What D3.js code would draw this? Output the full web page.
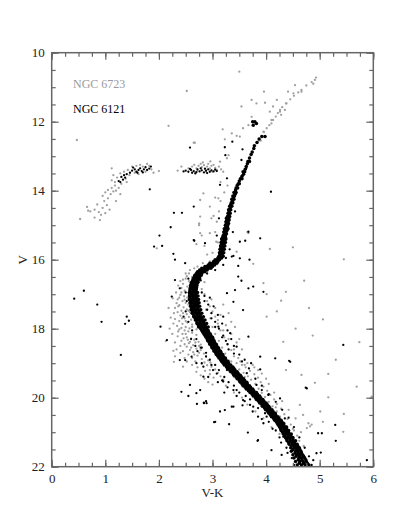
<!DOCTYPE html>
<meta charset="utf-8">
<title>CMD NGC 6121 / NGC 6723</title>
<style>

body {
  margin: 0;
  background: #fff;
}
svg text {
  font-family: "Liberation Serif", "DejaVu Serif", serif;
}

</style>
<body>
</body>
<script src="https://cdn.jsdelivr.net/npm/d3@7"></script>
<script>

var width = 415,
    height = 519;

// axis ticks
var xMajor = [0, 1, 2, 3, 4, 5, 6];
var yMajor = [10, 12, 14, 16, 18, 20, 22];

// NGC 6121 (black) -- dense sequence, rows of [V, [V-K ...]]
var m4Rows = [
  [21.95, [4.58, 4.66, 4.73, 4.80]], [21.90, [4.62, 4.70, 4.77]],
  [21.85, [4.55, 4.63, 4.69, 4.75]], [21.80, [4.60, 4.67, 4.74]],
  [21.75, [4.52, 4.61, 4.66, 4.72]], [21.70, [4.56, 4.63, 4.70]],
  [21.65, [4.50, 4.57, 4.62, 4.68]], [21.60, [4.54, 4.60, 4.66]],
  [21.55, [4.47, 4.55, 4.60, 4.65]], [21.50, [4.50, 4.57, 4.63]],
  [21.45, [4.46, 4.52, 4.57, 4.62]], [21.40, [4.47, 4.53, 4.59]],
  [21.35, [4.43, 4.49, 4.54, 4.58]], [21.30, [4.42, 4.48, 4.53]],
  [21.25, [4.39, 4.45, 4.50, 4.55]], [21.20, [4.38, 4.44, 4.50]],
  [21.15, [4.36, 4.41, 4.46, 4.50]], [21.10, [4.35, 4.41, 4.46]],
  [21.05, [4.32, 4.37, 4.42, 4.47]], [21.00, [4.31, 4.37, 4.42]],
  [20.95, [4.28, 4.33, 4.38, 4.42]], [20.90, [4.27, 4.33, 4.38]],
  [20.85, [4.25, 4.30, 4.34, 4.38]], [20.80, [4.23, 4.28, 4.33]],
  [20.75, [4.21, 4.25, 4.29, 4.33]], [20.70, [4.19, 4.24, 4.29]],
  [20.65, [4.16, 4.20, 4.24, 4.28]], [20.60, [4.14, 4.19, 4.24]],
  [20.55, [4.10, 4.14, 4.18, 4.22]], [20.50, [4.08, 4.13, 4.18]],
  [20.45, [4.05, 4.09, 4.13, 4.17]], [20.40, [4.03, 4.08, 4.13]],
  [20.35, [3.99, 4.03, 4.07, 4.11]], [20.30, [3.97, 4.02, 4.07]],
  [20.25, [3.93, 3.97, 4.01, 4.05]], [20.20, [3.92, 3.97, 4.02]],
  [20.15, [3.88, 3.92, 3.96, 4.00]], [20.10, [3.86, 3.91, 3.96]],
  [20.05, [3.82, 3.86, 3.90, 3.94]], [20.00, [3.80, 3.85, 3.90]],
  [19.95, [3.76, 3.80, 3.84, 3.88]], [19.90, [3.74, 3.79, 3.84]],
  [19.85, [3.70, 3.74, 3.78, 3.82]], [19.80, [3.67, 3.72, 3.77]],
  [19.75, [3.63, 3.67, 3.71, 3.75]], [19.70, [3.61, 3.66, 3.71]],
  [19.65, [3.57, 3.61, 3.65, 3.69]], [19.60, [3.55, 3.60, 3.65]],
  [19.55, [3.52, 3.56, 3.60, 3.64]], [19.50, [3.50, 3.55, 3.60]],
  [19.45, [3.46, 3.50, 3.54, 3.58]], [19.40, [3.44, 3.49, 3.54]],
  [19.35, [3.40, 3.44, 3.48, 3.52]], [19.30, [3.38, 3.43, 3.48]],
  [19.25, [3.34, 3.38, 3.42, 3.46]], [19.20, [3.32, 3.37, 3.42]],
  [19.15, [3.28, 3.32, 3.36, 3.40]], [19.10, [3.26, 3.31, 3.36]],
  [19.05, [3.22, 3.26, 3.30, 3.34]], [19.00, [3.20, 3.25, 3.30]],
  [18.95, [3.17, 3.21, 3.25, 3.29]], [18.90, [3.15, 3.20, 3.25]],
  [18.85, [3.12, 3.16, 3.20, 3.24]], [18.80, [3.10, 3.15, 3.20]],
  [18.75, [3.07, 3.11, 3.15, 3.19]], [18.70, [3.06, 3.11, 3.16]],
  [18.65, [3.03, 3.07, 3.11, 3.15]], [18.60, [3.02, 3.07, 3.12]],
  [18.55, [2.99, 3.03, 3.07, 3.11]], [18.50, [2.98, 3.03, 3.08]],
  [18.45, [2.95, 2.99, 3.03, 3.07]], [18.40, [2.94, 2.99, 3.04]],
  [18.35, [2.91, 2.95, 2.99, 3.03]], [18.30, [2.90, 2.96, 3.01]],
  [18.25, [2.88, 2.92, 2.96, 3.00]], [18.20, [2.86, 2.92, 2.97]],
  [18.15, [2.84, 2.88, 2.92, 2.96]], [18.10, [2.82, 2.88, 2.93]],
  [18.05, [2.80, 2.84, 2.88, 2.92]], [18.00, [2.78, 2.84, 2.89]],
  [17.95, [2.74, 2.79, 2.83, 2.87, 2.92]], [17.90, [2.74, 2.80, 2.86]],
  [17.85, [2.71, 2.76, 2.80, 2.84, 2.89]], [17.80, [2.71, 2.77, 2.83]],
  [17.75, [2.68, 2.73, 2.77, 2.81, 2.86]], [17.70, [2.68, 2.74, 2.80]],
  [17.65, [2.65, 2.70, 2.74, 2.78, 2.83]], [17.60, [2.65, 2.71, 2.77]],
  [17.55, [2.62, 2.67, 2.71, 2.75, 2.80]], [17.50, [2.63, 2.69, 2.75]],
  [17.45, [2.60, 2.65, 2.69, 2.73, 2.78]], [17.40, [2.61, 2.67, 2.73]],
  [17.35, [2.59, 2.64, 2.68, 2.72, 2.76]], [17.30, [2.60, 2.66, 2.72]],
  [17.25, [2.58, 2.63, 2.67, 2.71, 2.75]], [17.20, [2.59, 2.65, 2.71]],
  [17.15, [2.57, 2.62, 2.66, 2.70, 2.74]], [17.10, [2.58, 2.64, 2.70]],
  [17.05, [2.57, 2.61, 2.65, 2.69, 2.73]], [17.00, [2.58, 2.63, 2.69]],
  [16.95, [2.57, 2.61, 2.65, 2.69, 2.72]], [16.90, [2.58, 2.64, 2.69]],
  [16.85, [2.58, 2.62, 2.66, 2.70]], [16.80, [2.59, 2.65, 2.70]],
  [16.75, [2.59, 2.63, 2.67, 2.71]], [16.70, [2.61, 2.66, 2.71]],
  [16.65, [2.61, 2.65, 2.69, 2.73]], [16.60, [2.63, 2.68, 2.73]],
  [16.55, [2.64, 2.68, 2.72, 2.76]], [16.50, [2.66, 2.71, 2.76]],
  [16.45, [2.67, 2.71, 2.75, 2.79]], [16.40, [2.70, 2.75, 2.80]],
  [16.35, [2.72, 2.77, 2.82, 2.86]], [16.30, [2.76, 2.81, 2.86, 2.90]],
  [16.25, [2.80, 2.85, 2.89, 2.93, 2.97]], [16.20, [2.86, 2.90, 2.95, 3.00]],
  [16.15, [2.92, 2.96, 3.00, 3.04]], [16.10, [2.95, 3.00, 3.04, 3.08]],
  [16.05, [3.02, 3.06, 3.10]], [16.00, [3.05, 3.09, 3.13]],
  [15.95, [3.10, 3.14, 3.17]], [15.90, [3.12, 3.16, 3.20]],
  [15.85, [3.14, 3.18]], [15.80, [3.13, 3.17, 3.21]],
  [15.75, [3.15, 3.19]], [15.70, [3.14, 3.18, 3.22]],
  [15.65, [3.16, 3.20]], [15.60, [3.15, 3.19, 3.23]],
  [15.55, [3.17, 3.21]], [15.50, [3.16, 3.20, 3.24]],
  [15.45, [3.18, 3.23]], [15.40, [3.17, 3.21, 3.25]],
  [15.35, [3.19, 3.24]], [15.30, [3.20, 3.24]],
  [15.25, [3.22, 3.26]], [15.20, [3.21, 3.25]],
  [15.15, [3.23, 3.27]], [15.10, [3.22, 3.26, 3.29]],
  [15.05, [3.25, 3.28]], [15.00, [3.24, 3.28]],
  [14.95, [3.26, 3.30]], [14.90, [3.25, 3.29]],
  [14.85, [3.27, 3.31]], [14.80, [3.26, 3.30]],
  [14.75, [3.28, 3.32]], [14.70, [3.30]],
  [14.65, [3.29, 3.33]], [14.60, [3.31]],
  [14.55, [3.30, 3.34]], [14.50, [3.33]],
  [14.45, [3.32, 3.36]], [14.40, [3.34]],
  [14.35, [3.35, 3.38]], [14.30, [3.37]],
  [14.25, [3.36, 3.40]], [14.20, [3.39]],
  [14.15, [3.38, 3.41]], [14.10, [3.42]],
  [14.05, [3.40, 3.44]], [13.98, [3.43]],
  [13.92, [3.44, 3.47]], [13.85, [3.46]],
  [13.80, [3.48, 3.50]], [13.72, [3.50]],
  [13.65, [3.52, 3.55]], [13.58, [3.55]],
  [13.52, [3.58]], [13.45, [3.57, 3.60]],
  [13.38, [3.61]], [13.30, [3.63]],
  [13.22, [3.65]], [13.15, [3.66, 3.69]],
  [13.05, [3.69]], [12.95, [3.72]],
  [12.88, [3.74]], [12.78, [3.77]],
  [12.70, [3.78]], [12.60, [3.83]],
  [12.50, [3.87]], [12.43, [3.92, 3.98]],
  [12.10, [3.76]], [12.05, [3.82]], [12.00, [3.75, 3.79]]
];

// NGC 6121 horizontal branch [V-K, V]
var m4Hb = [
  [1.50, 13.42], [1.55, 13.38], [1.58, 13.45], [1.62, 13.40], [1.65, 13.35],
  [1.68, 13.43], [1.72, 13.38], [1.75, 13.32], [1.78, 13.40], [1.82, 13.36],
  [1.60, 13.48], [1.70, 13.47], [1.46, 13.48], [1.40, 13.52], [1.35, 13.55],
  [1.30, 13.60], [1.33, 13.68], [1.28, 13.75], [1.37, 13.62], [1.52, 13.33],
  [1.85, 13.30], [1.25, 13.72],
  [2.50, 13.42], [2.55, 13.45], [2.60, 13.40], [2.65, 13.43], [2.70, 13.46],
  [2.72, 13.38], [2.76, 13.44], [2.80, 13.41], [2.84, 13.47], [2.88, 13.42],
  [2.92, 13.38], [2.95, 13.45], [2.98, 13.41], [3.02, 13.44], [3.05, 13.39],
  [2.62, 13.48], [2.78, 13.35], [2.86, 13.36], [2.68, 13.50], [2.90, 13.49],
  [2.58, 13.37], [3.08, 13.43], [2.46, 13.44]
];

// NGC 6121 stars off the sequence [V-K, V]
var m4Field = [
  [0.42, 17.13], [0.60, 16.90], [0.85, 17.30], [0.93, 17.80], [1.40, 17.65],
  [1.44, 17.77], [1.37, 17.86], [1.29, 18.76], [2.03, 17.94],
  [2.42, 19.83], [2.55, 19.95], [2.70, 19.87], [2.71, 20.18], [2.84, 20.14],
  [2.49, 18.91], [2.58, 19.63], [2.77, 19.78], [2.88, 20.10],
  [2.58, 12.75], [2.43, 14.64], [2.28, 14.64], [2.22, 15.06], [2.01, 15.30],
  [1.91, 15.62], [2.06, 15.60], [2.30, 16.00], [2.66, 15.45], [1.83, 13.96],
  [4.09, 14.03], [3.89, 15.38], [3.23, 12.74], [3.24, 12.97], [3.37, 12.58],
  [3.56, 12.80], [3.14, 13.83], [3.27, 13.64], [3.61, 15.45], [3.39, 15.89],
  [3.69, 16.00], [3.48, 16.18], [3.76, 16.78], [3.95, 16.93], [3.54, 16.61],
  [3.42, 16.88], [4.17, 18.86], [4.43, 18.93], [3.89, 19.18], [4.74, 19.71],
  [5.44, 18.47], [5.29, 20.79], [5.30, 21.25], [4.97, 21.03], [5.02, 21.59],
  [4.88, 21.81], [5.88, 21.81], [3.03, 20.71], [3.31, 20.77], [3.23, 20.36],
  [3.66, 21.01], [3.84, 21.25], [2.84, 20.16], [3.56, 20.22], [3.39, 20.26],
  [2.27, 15.83], [2.49, 16.10], [2.30, 16.59], [2.24, 17.07], [2.39, 16.83],
  [2.46, 17.65], [2.15, 18.33], [2.39, 18.91], [3.48, 16.49], [3.67, 16.83],
  [3.57, 17.46], [3.33, 18.13], [3.45, 18.52], [3.67, 18.23], [3.89, 18.81],
  [3.39, 17.22], [3.27, 16.97], [3.20, 17.65], [3.11, 17.94], [3.36, 15.91],
  [3.51, 15.96], [2.61, 18.81], [2.70, 19.00], [2.83, 19.10],
  [2.89, 20.16], [3.05, 20.70], [3.14, 20.40], [3.36, 20.26], [3.70, 20.21],
  [3.85, 21.23], [4.10, 21.52], [4.29, 21.66], [4.94, 21.61], [5.04, 21.03],
  [4.45, 18.96], [4.76, 19.73], [4.26, 20.02], [4.04, 19.92], [3.57, 19.58],
  [3.45, 19.78], [2.83, 19.39], [2.80, 19.00], [3.27, 19.20], [4.20, 20.65],
  [4.35, 20.60], [4.32, 21.13], [3.95, 20.74], [4.38, 20.84], [4.48, 21.32],
  [3.14, 18.71], [3.39, 19.10], [3.64, 19.29], [3.82, 19.63], [3.92, 19.78],
  [3.01, 19.20], [3.20, 19.53], [3.39, 19.78], [3.57, 20.07], [3.76, 20.26],
  [4.01, 20.55], [3.85, 20.55], [2.65, 14.46], [2.65, 15.43], [2.86, 15.52],
  [3.51, 15.48], [3.67, 15.19], [3.54, 13.11], [3.63, 13.35],
  [2.52, 17.20], [2.50, 17.50], [2.55, 17.80], [2.62, 18.05], [2.70, 18.30],
  [2.78, 18.55], [2.88, 18.80], [2.98, 19.05], [3.08, 19.30], [3.18, 19.50],
  [3.28, 19.70], [3.45, 19.95], [3.60, 20.10], [3.75, 20.40], [3.92, 20.62],
  [4.12, 20.90], [4.25, 21.15], [4.38, 21.45], [4.48, 21.75], [4.52, 21.95],
  [4.85, 21.95], [4.80, 21.70], [4.72, 21.45], [4.62, 21.15], [4.52, 20.85],
  [4.42, 20.58], [4.30, 20.35], [4.18, 20.12], [4.05, 19.90], [3.92, 19.65],
  [3.80, 19.45], [3.68, 19.15], [3.55, 18.95], [3.40, 18.72], [3.28, 18.45],
  [3.18, 18.25], [3.05, 17.95], [2.98, 17.70], [2.90, 17.45], [2.85, 17.20],
  [2.80, 16.95], [2.78, 16.60], [2.90, 16.40], [3.05, 16.30], [3.20, 16.15],
  [3.25, 15.95], [2.55, 16.55], [2.50, 16.95], [3.32, 15.70], [3.08, 15.30],
  [3.38, 15.20], [3.12, 14.80], [3.42, 14.60],
  [2.85, 17.05], [2.92, 17.30], [2.98, 17.55], [3.05, 17.80], [3.12, 18.00],
  [3.20, 18.20], [3.25, 18.35], [2.95, 17.10], [3.02, 17.35], [3.10, 17.60],
  [3.18, 17.85], [3.28, 18.05], [3.35, 18.30], [3.40, 18.50], [3.30, 18.60],
  [3.50, 18.75], [3.60, 18.90], [3.72, 19.00],
  [2.80, 18.55], [2.88, 18.70], [2.95, 18.90], [3.05, 19.05], [3.12, 19.20],
  [3.22, 19.40], [3.30, 19.55], [3.40, 19.65], [3.50, 19.85], [3.62, 19.95],
  [3.70, 20.05], [3.85, 20.30], [3.98, 20.45], [4.05, 20.70], [4.18, 20.95],
  [4.28, 21.30], [4.40, 21.60], [2.92, 19.40], [3.10, 19.55], [3.22, 19.85],
  [2.68, 18.50], [2.60, 18.30], [2.72, 18.65]
];

// NGC 6723 (grey) main sequence, turnoff and giant branches [V-K, V]
var n6723Seq = [
  [2.50, 16.55], [2.56, 16.62], [2.45, 16.70], [2.53, 16.78], [2.60, 16.85],
  [2.48, 16.90], [2.55, 16.96], [2.42, 16.82], [2.58, 16.68], [2.36, 16.75],
  [2.62, 16.50], [2.50, 16.40], [2.58, 16.30], [2.66, 16.25], [2.72, 16.20],
  [2.45, 16.58],
  [2.40, 17.02], [2.47, 17.06], [2.53, 17.10], [2.35, 17.15], [2.44, 17.20],
  [2.50, 17.25], [2.55, 17.30], [2.38, 17.32], [2.46, 17.38], [2.52, 17.44],
  [2.30, 17.40], [2.42, 17.48], [2.57, 17.04], [2.33, 17.26], [2.48, 17.16],
  [2.26, 17.12],
  [2.35, 17.52], [2.45, 17.55], [2.52, 17.58], [2.40, 17.62], [2.56, 17.66],
  [2.48, 17.70], [2.30, 17.72], [2.60, 17.74], [2.38, 17.78], [2.53, 17.82],
  [2.44, 17.86], [2.62, 17.88], [2.34, 17.92], [2.50, 17.95], [2.57, 17.99],
  [2.42, 17.98], [2.27, 17.85], [2.65, 17.60], [2.22, 17.68], [2.58, 17.52],
  [2.38, 18.02], [2.48, 18.05], [2.55, 18.08], [2.62, 18.12], [2.44, 18.15],
  [2.70, 18.18], [2.35, 18.22], [2.52, 18.25], [2.60, 18.28], [2.66, 18.32],
  [2.42, 18.35], [2.74, 18.38], [2.56, 18.42], [2.48, 18.45], [2.64, 18.48],
  [2.30, 18.40], [2.78, 18.46], [2.25, 18.15], [2.70, 18.02], [2.58, 18.38],
  [2.52, 18.52], [2.60, 18.55], [2.70, 18.58], [2.78, 18.62], [2.45, 18.65],
  [2.64, 18.68], [2.84, 18.72], [2.55, 18.75], [2.72, 18.78], [2.88, 18.82],
  [2.62, 18.85], [2.80, 18.88], [2.92, 18.92], [2.48, 18.85], [2.68, 18.95],
  [2.96, 18.98], [2.40, 18.70], [2.75, 18.50],
  [2.80, 19.02], [2.90, 19.06], [2.98, 19.10], [2.72, 19.12], [3.05, 19.18],
  [2.86, 19.22], [3.10, 19.28], [2.95, 19.32], [3.15, 19.38], [3.02, 19.42],
  [3.20, 19.48], [2.78, 19.35],
  [2.32, 16.95], [2.40, 16.62], [2.52, 16.48], [2.36, 17.35], [2.28, 17.55],
  [2.43, 17.70], [2.50, 17.78], [2.36, 18.08], [2.46, 18.28], [2.54, 18.32],
  [2.40, 18.50], [2.58, 18.62], [2.66, 18.75], [2.52, 18.95], [2.62, 19.05],
  [2.85, 19.45], [2.70, 19.25], [2.92, 19.55], [3.00, 19.62], [2.20, 18.00],
  [2.18, 17.40], [2.30, 18.80], [2.45, 19.10], [2.56, 16.40], [2.42, 16.95],
  [2.62, 17.20], [2.60, 17.38], [2.62, 17.95], [2.68, 18.40], [2.75, 18.70],
  [2.85, 18.98], [2.95, 19.20], [2.50, 18.15], [2.33, 18.60], [2.38, 17.10],
  [2.55, 17.48],
  [2.80, 16.85], [2.85, 17.00], [2.90, 17.20], [2.95, 17.35], [3.00, 17.50],
  [2.88, 17.45], [3.05, 17.65], [2.96, 17.70], [3.10, 17.85], [3.00, 17.95],
  [3.15, 18.05], [3.05, 18.15], [3.22, 18.25], [3.12, 18.35], [3.28, 18.45],
  [3.18, 18.55], [3.35, 18.62], [3.24, 18.72], [3.40, 18.80], [3.30, 18.92],
  [2.85, 16.65], [3.45, 18.40], [3.35, 18.15], [3.25, 17.90], [3.15, 17.60],
  [3.20, 17.30], [3.30, 17.55], [3.42, 17.95], [3.50, 18.30], [3.55, 18.60],
  [3.48, 18.85], [3.60, 19.05],
  [3.35, 18.95], [3.50, 19.30], [3.65, 19.55], [3.70, 19.85], [3.82, 19.95],
  [3.90, 20.15], [4.02, 20.35], [4.15, 20.50], [4.25, 20.75], [4.35, 21.00],
  [4.45, 21.20], [3.92, 19.30], [4.05, 19.60], [4.15, 19.85], [4.30, 20.10],
  [4.42, 20.35], [4.55, 20.60], [3.60, 19.40], [3.75, 19.75], [4.18, 20.28],
  [4.50, 20.90], [4.65, 21.00], [3.52, 18.95], [3.65, 19.00], [3.78, 19.12],
  [3.40, 18.60], [3.30, 18.30], [3.20, 18.05], [3.10, 17.75], [3.35, 17.80],
  [3.05, 17.40], [2.98, 17.15],
  [3.45, 19.00], [3.55, 19.05], [3.62, 19.12], [3.50, 19.18], [3.70, 19.22],
  [3.58, 19.28], [3.78, 19.32], [3.66, 19.38], [3.85, 19.42], [3.72, 19.48],
  [3.90, 19.55], [3.80, 19.60], [3.95, 19.68], [3.86, 19.74], [4.02, 19.80],
  [3.92, 19.86], [4.08, 19.92], [3.98, 19.98], [4.15, 20.05], [4.05, 20.12],
  [4.20, 20.18], [4.12, 20.25], [4.28, 20.32], [4.20, 20.40], [4.34, 20.48],
  [4.26, 20.55], [4.40, 20.62], [4.32, 20.70], [4.46, 20.78], [4.40, 20.86],
  [4.52, 20.95], [4.58, 21.10], [4.62, 21.25], [4.70, 21.40], [3.40, 19.40],
  [3.50, 19.55], [3.60, 19.70], [3.32, 19.25], [3.75, 19.05], [3.85, 19.20],
  [4.00, 19.45], [3.25, 19.65], [3.40, 19.85], [3.55, 20.00], [3.65, 20.20],
  [3.80, 20.40], [3.95, 20.60], [4.10, 20.85], [4.25, 21.05],
  [4.79, 20.74], [4.82, 20.83], [4.85, 20.78], [4.76, 20.88],
  [2.75, 15.00], [2.80, 15.30], [2.85, 15.60], [2.90, 15.85], [2.95, 16.05],
  [2.70, 15.55], [2.82, 16.10], [3.05, 15.20], [3.10, 15.50], [3.00, 15.80],
  [3.08, 14.90], [3.12, 14.60], [3.15, 14.30], [2.98, 14.80], [3.22, 14.05],
  [3.05, 14.20], [3.28, 13.85], [3.15, 13.75],
  [3.22, 15.60], [3.25, 15.30], [3.28, 15.00], [3.33, 14.70], [3.38, 14.40],
  [3.43, 14.10], [3.48, 13.80], [3.55, 13.55], [3.62, 13.30], [3.68, 13.10],
  [3.74, 12.90], [3.80, 12.70], [3.86, 12.55], [3.92, 12.42], [3.96, 12.30],
  [4.01, 12.19], [4.06, 12.10], [4.13, 11.95], [4.18, 11.85], [4.22, 11.75],
  [4.26, 11.66], [4.30, 11.58], [4.38, 11.47], [4.45, 11.35], [4.52, 11.25],
  [4.60, 11.15], [4.66, 11.08], [4.75, 10.95], [4.85, 10.85], [4.91, 10.79],
  [4.93, 10.72], [4.88, 10.90], [4.28, 11.80], [4.10, 12.05], [3.90, 12.55],
  [3.82, 11.47], [3.98, 11.45], [4.20, 11.37], [4.13, 11.56], [4.07, 11.71],
  [4.41, 11.13], [4.54, 10.94], [4.51, 11.18], [4.66, 11.13], [4.37, 11.47],
  [4.35, 11.66], [4.26, 11.71], [4.10, 11.95], [3.95, 12.29], [3.73, 11.86],
  [3.67, 12.10], [3.57, 12.19], [3.51, 12.43], [3.45, 12.41], [3.36, 12.34],
  [3.23, 12.51], [3.30, 12.97], [3.27, 13.06], [3.14, 13.16], [2.67, 12.61],
  [2.83, 14.08], [2.77, 14.27], [2.95, 14.46], [3.11, 14.22], [2.77, 14.75],
  [3.02, 14.73], [2.95, 15.23], [2.77, 15.23], [3.07, 15.48], [3.45, 15.77],
  [3.67, 15.23]
];

// NGC 6723 horizontal branch [V-K, V]
var n6723Hb = [
  [0.53, 14.82], [0.66, 14.47], [0.68, 14.58], [0.72, 14.60], [0.80, 14.55],
  [0.85, 14.40], [0.88, 14.62], [0.92, 14.70], [0.95, 14.50], [0.98, 14.30],
  [1.00, 14.65], [1.03, 14.42], [1.05, 14.22], [1.08, 14.55], [0.95, 14.15],
  [1.00, 14.05], [1.05, 13.98], [1.10, 14.10], [1.12, 13.92], [1.15, 14.02],
  [1.18, 13.85], [1.20, 14.00], [1.25, 13.92], [1.12, 13.70], [1.15, 13.55],
  [1.18, 13.75], [1.22, 13.62], [1.28, 13.50], [1.30, 13.80], [1.35, 13.45],
  [1.38, 13.65], [1.42, 13.40], [1.45, 13.55], [1.50, 13.30], [1.55, 13.48],
  [1.58, 13.28], [1.62, 13.52], [1.65, 13.25], [1.70, 13.30], [1.75, 13.45],
  [1.78, 13.22], [1.82, 13.28], [1.86, 13.38], [1.90, 13.48], [1.12, 13.35],
  [1.40, 13.75], [1.28, 14.10], [0.90, 14.85], [0.80, 14.78], [1.20, 14.30],
  [2.62, 13.30], [2.66, 13.25], [2.70, 13.35], [2.74, 13.28], [2.78, 13.22],
  [2.80, 13.32], [2.84, 13.26], [2.86, 13.38], [2.90, 13.30], [2.92, 13.22],
  [2.95, 13.35], [2.98, 13.28], [3.02, 13.25], [3.05, 13.34], [3.08, 13.40],
  [3.12, 13.30], [3.16, 13.38], [2.72, 13.42], [2.88, 13.45], [3.00, 13.45],
  [2.82, 13.18], [2.96, 13.15], [2.55, 13.35], [3.20, 13.45], [2.68, 13.48],
  [2.42, 13.30], [2.35, 13.42]
];

// NGC 6723 stars off the sequence [V-K, V]
var n6723Field = [
  [4.71, 16.61], [4.37, 16.93], [4.28, 17.19], [4.01, 17.65], [5.06, 17.73],
  [4.87, 18.20], [5.74, 18.39], [4.32, 18.38], [5.16, 19.31], [5.69, 19.68],
  [4.91, 19.57], [4.37, 19.20], [4.66, 19.34], [5.45, 20.47], [5.97, 19.97],
  [5.16, 19.99], [4.63, 20.21], [4.69, 20.50], [5.01, 20.40], [5.44, 20.99],
  [5.06, 20.70], [3.76, 16.12], [3.95, 16.68], [4.01, 17.00], [2.13, 18.36],
  [2.27, 18.64], [2.28, 18.96], [2.52, 11.11], [2.18, 12.12], [2.65, 12.61],
  [2.75, 14.95], [1.96, 15.67], [4.07, 15.69], [4.50, 15.64], [5.45, 15.99],
  [3.50, 10.55], [3.73, 11.37], [3.96, 11.13], [3.54, 11.56], [3.19, 12.22],
  [3.65, 15.20], [0.47, 12.53], [4.55, 18.00], [4.80, 17.40], [5.30, 18.90],
  [4.20, 17.50], [2.00, 13.43]
];

// flatten the rows
var m4Seq = [];
m4Rows.forEach(function(r) {
  r[1].forEach(function(vk) { m4Seq.push([vk, r[0]]); });
});

var margin = {left: 51.7, right: 373.3, top: 52.7, bottom: 466.7};

var x = d3.scaleLinear().domain([0, 6]).range([margin.left, margin.right]);
var y = d3.scaleLinear().domain([10, 22]).range([margin.top, margin.bottom]);

var svg = d3.select("body").append("svg")
    .attr("width", width)
    .attr("height", height);

var xMinor = d3.range(0, 6.001, 0.25);
var yMinor = d3.range(10, 22.001, 0.5);

// points -- grey cluster behind, black in front
var plot = svg.append("g");

function dots(data, color, r) {
  plot.append("g").selectAll("circle")
      .data(data)
    .enter().append("circle")
      .attr("cx", function(d) { return x(d[0]); })
      .attr("cy", function(d) { return y(d[1]); })
      .attr("r", r)
      .attr("fill", color);
}

dots(n6723Seq.concat(n6723Hb, n6723Field), "#a0a0a0", 1.15);
dots(m4Field.concat(m4Hb), "#000", 1.15);
dots(m4Seq, "#000", 1.75);

// axes, ticks pointing into the box
var serif = "'Liberation Serif', 'DejaVu Serif', serif";

function styleAxis(g) {
  g.attr("font-family", serif).attr("font-size", 13);
  g.select(".domain").remove();
  g.selectAll("line").attr("stroke", "#666").attr("stroke-width", 1.2);
  g.selectAll("text").attr("fill", "#222");
}

function ticks(axisFn, scale, pos, minor, major, labels) {
  svg.append("g")
      .attr("transform", pos)
      .call(axisFn(scale).tickValues(minor).tickSize(-4).tickFormat(""))
      .call(styleAxis);
  var a = axisFn(scale).tickValues(major).tickSize(-7)
      .tickPadding(labels ? 7 : 0)
      .tickFormat(labels ? d3.format("d") : "");
  svg.append("g")
      .attr("transform", pos)
      .call(a)
      .call(styleAxis);
}

ticks(d3.axisBottom, x, "translate(0," + margin.bottom + ")", xMinor, xMajor, true);
ticks(d3.axisTop, x, "translate(0," + margin.top + ")", xMinor, xMajor, false);
ticks(d3.axisLeft, y, "translate(" + margin.left + ",0)", yMinor, yMajor, true);
ticks(d3.axisRight, y, "translate(" + margin.right + ",0)", yMinor, yMajor, false);

svg.append("rect")
    .attr("x", margin.left)
    .attr("y", margin.top)
    .attr("width", margin.right - margin.left)
    .attr("height", margin.bottom - margin.top)
    .attr("fill", "none")
    .attr("stroke", "#666")
    .attr("stroke-width", 1.5);

// axis titles
svg.append("text")
    .attr("x", (margin.left + margin.right) / 2)
    .attr("y", 497)
    .attr("text-anchor", "middle")
    .attr("font-family", serif)
    .attr("font-size", 13)
    .attr("fill", "#222")
    .text("V-K");

svg.append("text")
    .attr("transform", "translate(27," + ((margin.top + margin.bottom) / 2) + ") rotate(-90)")
    .attr("text-anchor", "middle")
    .attr("font-family", serif)
    .attr("font-size", 13)
    .attr("fill", "#222")
    .text("V");

// legend
svg.append("text")
    .attr("x", 73).attr("y", 88)
    .attr("font-family", serif)
    .attr("font-size", 12)
    .attr("fill", "#9a9a9a")
    .text("NGC 6723");

svg.append("text")
    .attr("x", 73).attr("y", 113)
    .attr("font-family", serif)
    .attr("font-size", 12)
    .attr("fill", "#000")
    .text("NGC 6121");

</script>
